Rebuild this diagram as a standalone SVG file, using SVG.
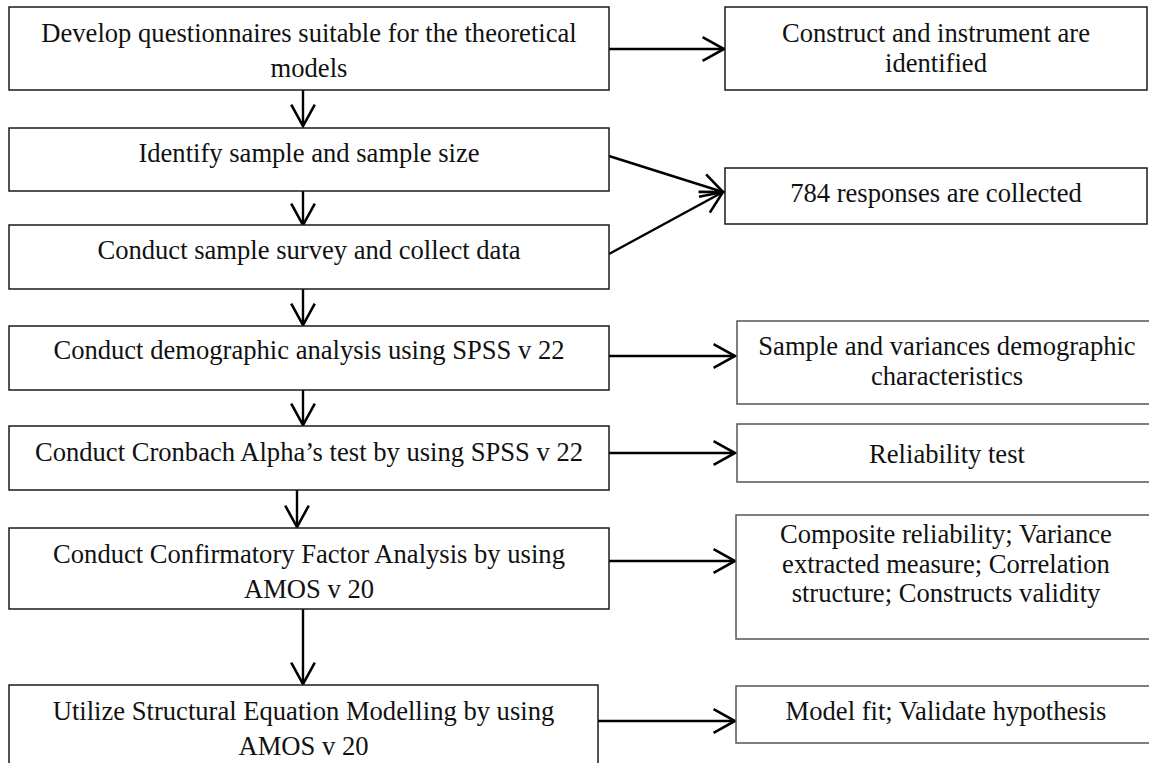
<svg xmlns="http://www.w3.org/2000/svg" width="1149" height="763" viewBox="0 0 1149 763">
  <style>
    .box { fill: #ffffff; stroke: #1a1a1a; stroke-width: 1.5; }
    .box2 { fill: #ffffff; stroke: #555555; stroke-width: 1.5; }
    .lbl { font-family: "Liberation Serif", "Times New Roman", serif; font-size: 26.6px; fill: #111111; text-anchor: middle; }
    .edge { fill: none; stroke: #000000; stroke-width: 2.4; marker-end: url(#open); }
  </style>
  <defs>
    <marker id="open" markerUnits="userSpaceOnUse" markerWidth="30" markerHeight="30" viewBox="-24 -14 28 28" refX="0" refY="0" orient="auto">
      <path d="M-20,-11 L0,0 L-20,11" fill="none" stroke="#000000" stroke-width="2.4"/>
    </marker>
  </defs>

  <rect width="1149" height="763" fill="#ffffff"/>

  <!-- connectors -->
  <g id="connectors">
    <line class="edge" x1="303" y1="90" x2="303" y2="126"/>
    <line class="edge" x1="303" y1="191" x2="303" y2="225"/>
    <line class="edge" x1="303" y1="289" x2="303" y2="325"/>
    <line class="edge" x1="303" y1="390" x2="303" y2="425"/>
    <line class="edge" x1="297" y1="490" x2="297" y2="527"/>
    <line class="edge" x1="303" y1="609" x2="303" y2="684"/>
    <line class="edge" x1="609" y1="49" x2="724" y2="49"/>
    <line class="edge" x1="609" y1="156" x2="723" y2="192"/>
    <line class="edge" x1="609" y1="254" x2="723" y2="192"/>
    <line class="edge" x1="609" y1="356" x2="735" y2="356"/>
    <line class="edge" x1="609" y1="453" x2="735" y2="453"/>
    <line class="edge" x1="609" y1="561" x2="735" y2="561"/>
    <line class="edge" x1="598" y1="721" x2="735" y2="721"/>
  </g>

  <!-- process steps (left column) -->
  <g id="step-develop">
    <rect class="box" x="9" y="7" width="600" height="83"/>
    <text class="lbl" x="309" y="42">Develop questionnaires suitable for the theoretical</text>
    <text class="lbl" x="309" y="77">models</text>
  </g>
  <g id="step-sample">
    <rect class="box" x="9" y="128" width="600" height="63"/>
    <text class="lbl" x="309" y="162">Identify sample and sample size</text>
  </g>
  <g id="step-survey">
    <rect class="box" x="9" y="225" width="600" height="64"/>
    <text class="lbl" x="309" y="259">Conduct sample survey and collect data</text>
  </g>
  <g id="step-demographic">
    <rect class="box" x="9" y="326" width="600" height="64"/>
    <text class="lbl" x="309" y="359">Conduct demographic analysis using SPSS v 22</text>
  </g>
  <g id="step-cronbach">
    <rect class="box" x="9" y="426" width="600" height="64"/>
    <text class="lbl" x="309" y="461">Conduct Cronbach Alpha’s test by using SPSS v 22</text>
  </g>
  <g id="step-cfa">
    <rect class="box" x="9" y="528" width="600" height="81"/>
    <text class="lbl" x="309" y="563">Conduct Confirmatory Factor Analysis by using</text>
    <text class="lbl" x="309" y="598">AMOS v 20</text>
  </g>
  <g id="step-sem">
    <rect class="box" x="9" y="685" width="589" height="95"/>
    <text class="lbl" x="303.5" y="720">Utilize Structural Equation Modelling by using</text>
    <text class="lbl" x="303.5" y="755">AMOS v 20</text>
  </g>

  <!-- outcomes (right column) -->
  <g id="out-construct">
    <rect class="box" x="725" y="7" width="422" height="83"/>
    <text class="lbl" x="936" y="42">Construct and instrument are</text>
    <text class="lbl" x="936" y="72">identified</text>
  </g>
  <g id="out-responses">
    <rect class="box" x="725" y="168" width="422" height="56"/>
    <text class="lbl" x="936" y="202">784 responses are collected</text>
  </g>
  <g id="out-demographics">
    <rect class="box2" x="737" y="321" width="424" height="83"/>
    <text class="lbl" x="947" y="355">Sample and variances demographic</text>
    <text class="lbl" x="947" y="385">characteristics</text>
  </g>
  <g id="out-reliability">
    <rect class="box2" x="737" y="424" width="424" height="58"/>
    <text class="lbl" x="947" y="463">Reliability test</text>
  </g>
  <g id="out-cfa">
    <rect class="box2" x="736" y="515" width="425" height="124"/>
    <text class="lbl" x="946" y="543">Composite reliability; Variance</text>
    <text class="lbl" x="946" y="573">extracted measure; Correlation</text>
    <text class="lbl" x="946" y="602">structure; Constructs validity</text>
  </g>
  <g id="out-sem">
    <rect class="box2" x="736" y="686" width="425" height="57"/>
    <text class="lbl" x="946" y="720">Model fit; Validate hypothesis</text>
  </g>
</svg>
